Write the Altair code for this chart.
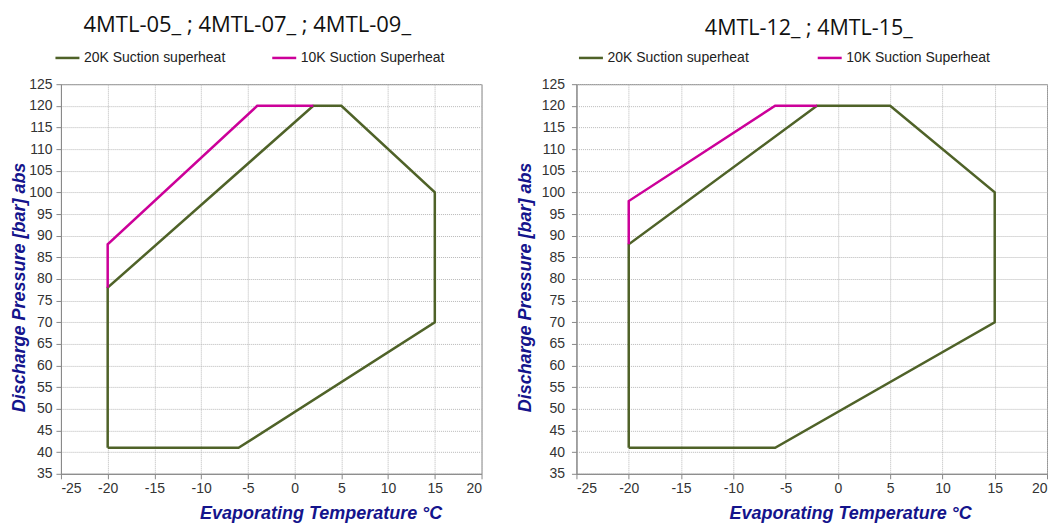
import altair as alt
import pandas as pd

S20 = "20K Suction superheat"
S10 = "10K Suction Superheat"

# Left panel: 4MTL-05_ ; 4MTL-07_ ; 4MTL-09_
left_20_x = [-20, -6, 15, 15, 5, 2, -20, -20]
left_20_y = [41, 41, 70, 100, 120, 120, 78, 41]
left_10_x = [-20, -20, -4, 2]
left_10_y = [78, 88, 120, 120]

# Right panel: 4MTL-12_ ; 4MTL-15_
right_20_x = [-20, -6, 15, 15, 5, -2, -20, -20]
right_20_y = [41, 41, 70, 100, 120, 120, 88, 41]
right_10_x = [-20, -20, -6, -2]
right_10_y = [88, 98, 120, 120]

x_ticks = [-25, -20, -15, -10, -5, 0, 5, 10, 15, 20]
y_ticks = list(range(35, 126, 5))

GREEN = "#4F6228"
MAGENTA = "#CC0099"
NAVY = "#14148C"


def frame(x20, y20, x10, y10):
    rows = []
    for i, (a, b) in enumerate(zip(x20, y20)):
        rows.append({"series": S20, "t": a, "p": b, "o": i})
    for i, (a, b) in enumerate(zip(x10, y10)):
        rows.append({"series": S10, "t": a, "p": b, "o": i})
    return pd.DataFrame(rows)


def panel(df, title, w, title_size, title_dx, title_dy, xtitle_x, legend_x, col_pad,
          label_pad, title_pad):
    return alt.Chart(df).mark_line(strokeWidth=2.5).encode(
        x=alt.X("t:Q", scale=alt.Scale(domain=[-25, 20], nice=False),
                axis=alt.Axis(values=x_ticks, labelExpr="datum.value",
                              title="Evaporating Temperature °C",
                              titleX=xtitle_x, titleY=31, titleAnchor="middle")),
        y=alt.Y("p:Q", scale=alt.Scale(domain=[35, 125], nice=False, zero=False),
                axis=alt.Axis(values=y_ticks, labelExpr="datum.value",
                              labelPadding=label_pad, titleY=203,
                              title="Discharge Pressure [bar] abs", titlePadding=title_pad)),
        color=alt.Color("series:N",
                        scale=alt.Scale(domain=[S20, S10], range=[GREEN, MAGENTA]),
                        legend=alt.Legend(title=None, orient="none", direction="horizontal",
                                          legendX=legend_x, legendY=-40,
                                          symbolType="stroke", symbolSize=576,
                                          symbolStrokeWidth=2.5, labelOffset=3,
                                          columnPadding=col_pad,
                                          labelFont="Liberation Sans", labelFontSize=14,
                                          labelColor="#222")),
        order="o:Q",
        detail="series:N",
    ).properties(
        width=w, height=390,
        title=alt.TitleParams(title, anchor="middle", dx=title_dx, dy=title_dy, offset=7,
                              font="Open Sans", fontSize=title_size, fontWeight="normal",
                              color="#111"),
    )


left = panel(frame(left_20_x, left_20_y, left_10_x, left_10_y),
             "4MTL-05_ ; 4MTL-07_ ; 4MTL-09_", 421, 22, -24, 0, 260, -7, 41, 4, 0)
right = panel(frame(right_20_x, right_20_y, right_10_x, right_10_y),
              "4MTL-12_ ; 4MTL-15_", 471, 21.5, -3, 2, 274, 1, 63, 7, 7)

chart = alt.hconcat(left, right, spacing=33).resolve_legend(color="independent").configure_axis(
    labelFont="Liberation Sans", labelFontSize=14, labelColor="#333", labelPadding=3,
    tickColor="#888", tickSize=5, domainColor="#888",
    gridColor="#b8b8b8", gridDash=[1, 1],
    titleFont="Liberation Sans", titleFontSize=18, titleFontStyle="italic",
    titleFontWeight="bold", titleColor=NAVY,
).configure_view(stroke="#888").properties(padding={"left": 2, "top": 5, "right": 0, "bottom": 0})

chart.save("out.html", embed_options={"renderer": "svg", "actions": False})
